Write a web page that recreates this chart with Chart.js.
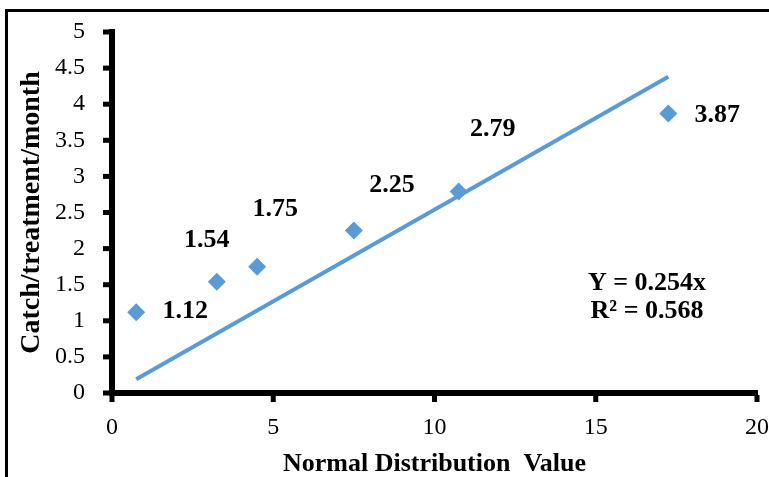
<!DOCTYPE html>
<html>
<head>
<meta charset="utf-8">
<script src="https://cdn.jsdelivr.net/npm/chart.js@4/dist/chart.umd.min.js"></script>
<style>
  html, body { margin: 0; padding: 0; background: #fff; overflow: hidden; }
  #wrap { position: relative; width: 769px; height: 477px; }
  #frame { position: absolute; left: 5px; top: 9px; width: 900px; height: 700px;
           border: 3px solid #000; pointer-events: none; }
</style>
</head>
<body>
<div id="wrap">
  <canvas id="chart" width="769" height="477"></canvas>
  <div id="frame"></div>
</div>
<script>
// Catch per treatment vs normal distribution value

const normalValues = [0.75, 3.25, 4.5, 7.5, 10.75, 17.25];
const catchValues = [1.12, 1.54, 1.75, 2.25, 2.79, 3.87];
const slope = 0.254;
const equationLines = ['Y = 0.254x', 'R² = 0.568'];
const xTicks = [0, 5, 10, 15, 20];
const yTicks = [0, 0.5, 1, 1.5, 2, 2.5, 3, 3.5, 4, 4.5, 5];

// where each value label sits relative to its point (px)
const labelOffsets = [[49, -1], [-10, -42], [18, -57], [38, -45], [34, -62], [49, 2]];

const blue = '#5b9bd5';
const serif = "'Liberation Serif', 'Times New Roman', serif";

const pointData = normalValues.map((x, i) => ({ x: x, y: catchValues[i] }));
const xFirst = normalValues[0];
const xLast = normalValues[normalValues.length - 1];
const trendData = [
  { x: xFirst, y: slope * xFirst },
  { x: xLast, y: slope * xLast }
];

const valueLabels = {
  id: 'valueLabels',
  afterDatasetsDraw(chart) {
    const ctx = chart.ctx;
    const meta = chart.getDatasetMeta(1);
    ctx.save();
    ctx.font = 'bold 26px ' + serif;
    ctx.fillStyle = '#000';
    ctx.textAlign = 'center';
    ctx.textBaseline = 'middle';
    meta.data.forEach((pt, i) => {
      const off = labelOffsets[i];
      ctx.fillText(catchValues[i].toFixed(2), pt.x + off[0], pt.y + off[1]);
    });
    ctx.fillText(equationLines[0], 647, 283);
    ctx.fillText(equationLines[1], 647, 311);
    ctx.restore();
  }
};

// small square tick stubs outside the axes
const tickStubs = {
  id: 'tickStubs',
  afterDraw(chart) {
    const ctx = chart.ctx;
    const xs = chart.scales.x;
    const ys = chart.scales.y;
    const area = chart.chartArea;
    ctx.save();
    ctx.fillStyle = '#000';
    xs.ticks.forEach(t => {
      const px = xs.getPixelForValue(t.value);
      ctx.fillRect(px - 2.5, area.bottom + 2, 5, 7);
    });
    ys.ticks.forEach(t => {
      const py = ys.getPixelForValue(t.value);
      ctx.fillRect(area.left - 9, py - 2.5, 7, 5);
    });
    ctx.restore();
  }
};

const noGrid = { display: false, drawOnChartArea: false, tickLength: 7 };

new Chart(document.getElementById('chart'), {
  type: 'scatter',
  data: {
    datasets: [{
      type: 'line',
      data: trendData,
      borderColor: blue,
      borderWidth: 4,
      pointRadius: 0,
      fill: false
    }, {
      data: pointData,
      pointStyle: 'rectRot',
      pointRadius: 9,
      pointHoverRadius: 9,
      backgroundColor: blue,
      borderWidth: 0
    }]
  },
  options: {
    responsive: false,
    animation: false,
    layout: { padding: { left: 0, top: 32, right: 12, bottom: 0 } },
    plugins: {
      legend: { display: false },
      tooltip: { enabled: false }
    },
    scales: {
      x: {
        type: 'linear',
        min: 0,
        max: 20,
        afterBuildTicks: (s) => { s.ticks = xTicks.map(v => ({ value: v })); },
        afterFit: (s) => { s.height = 84; s.paddingLeft = 0; s.paddingRight = 0; },
        ticks: {
          color: '#000',
          font: { family: serif, size: 24 },
          padding: 13,
          maxRotation: 0,
          callback: (v) => String(v)
        },
        grid: noGrid,
        border: { display: true, color: '#000', width: 6 },
        title: {
          display: true,
          text: 'Normal Distribution  Value',
          color: '#000',
          font: { family: serif, size: 26, weight: 'bold', lineHeight: 1 },
          padding: { top: 0, bottom: 0 }
        }
      },
      y: {
        min: 0,
        max: 5,
        afterBuildTicks: (s) => { s.ticks = yTicks.map(v => ({ value: v })); },
        afterFit: (s) => { s.width = 112; s.paddingTop = 0; s.paddingBottom = 0; },
        ticks: {
          color: '#000',
          font: { family: serif, size: 24 },
          padding: 20,
          callback: (v) => String(v)
        },
        grid: noGrid,
        border: { display: true, color: '#000', width: 6 },
        title: {
          display: true,
          text: 'Catch/treatment/month',
          color: '#000',
          font: { family: serif, size: 28, weight: 'bold', lineHeight: 1 },
          padding: { top: 18, bottom: 0 }
        }
      }
    }
  },
  plugins: [valueLabels, tickStubs]
});
</script>
</body>
</html>
